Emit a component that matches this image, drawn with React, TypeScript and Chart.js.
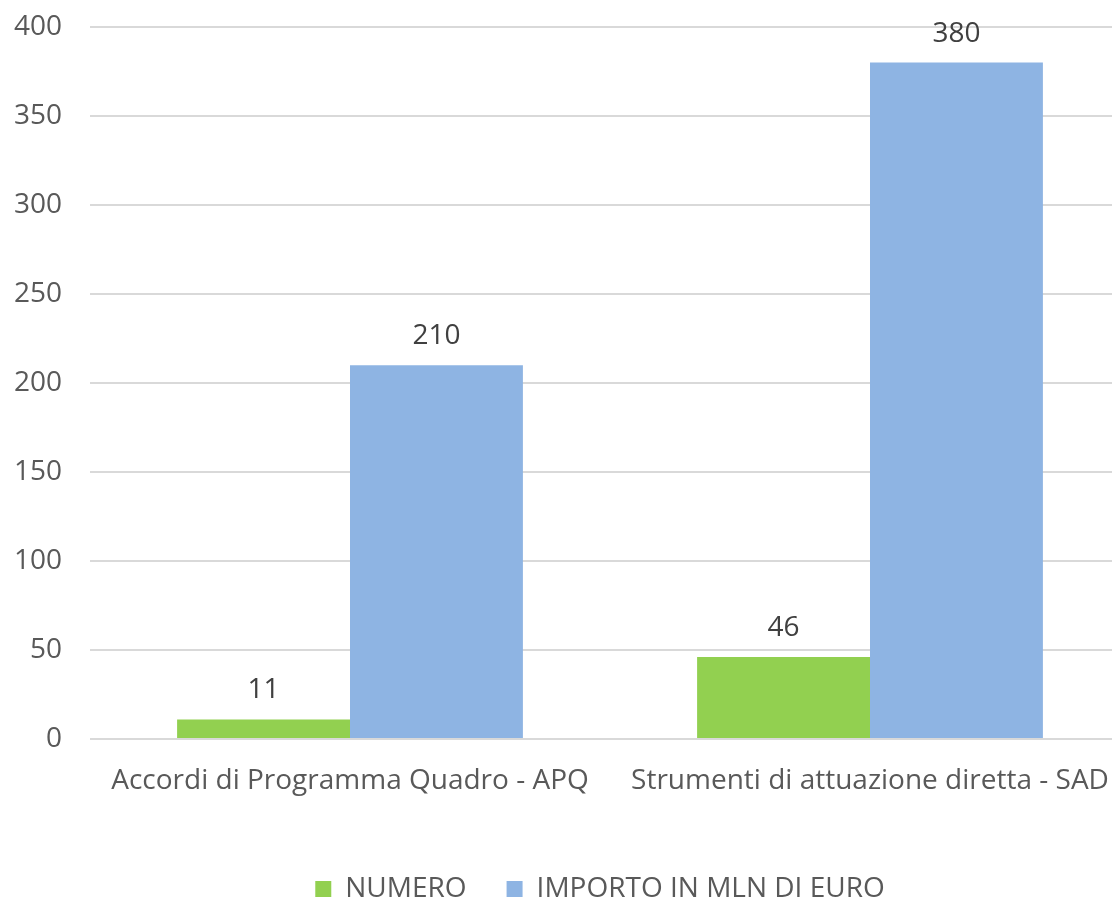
import React, { useEffect, useRef } from "react";
import { Chart, registerables } from "chart.js";

Chart.register(...registerables);

const categories = ["Accordi di Programma Quadro - APQ", "Strumenti di attuazione diretta - SAD"];
const numero = [11, 46];
const importo = [210, 380];
const seriesNames = ["NUMERO", "IMPORTO IN MLN DI EURO"];
const yTicks = [0, 50, 100, 150, 200, 250, 300, 350, 400];

const FONT = "'Open Sans', 'Noto Sans', sans-serif";
const TEXT = "#595959";
const FS = 28;

const valueLabels = {
  id: "valueLabels",
  afterLayout(chart: any) {
    const lg = chart.legend;
    if (lg) {
      lg.left += 35;
      lg.right += 35;
      lg.top += 14;
      lg.bottom += 14;
    }
  },
  afterDatasetsDraw(chart: any) {
    const ctx = chart.ctx;
    ctx.save();
    ctx.font = `${FS}px ${FONT}`;
    ctx.fillStyle = "#404040";
    ctx.textAlign = "center";
    ctx.textBaseline = "middle";
    chart.data.datasets.forEach((ds: any, i: number) => {
      const meta = chart.getDatasetMeta(i);
      meta.data.forEach((bar: any, j: number) => {
        ctx.fillText(String(ds.data[j]), bar.x, bar.y - 29);
      });
    });
    ctx.restore();
  },
};

export default function App() {
  const ref = useRef<HTMLCanvasElement | null>(null);
  useEffect(() => {
    document.body.style.overflow = "hidden";
    const chart = new Chart(ref.current as HTMLCanvasElement, {
      type: "bar",
      data: {
        labels: categories,
        datasets: [
          {
            label: seriesNames[0],
            data: numero,
            backgroundColor: "#92D050",
            borderWidth: 0,
            categoryPercentage: 0.665,
            barPercentage: 1,
          },
          {
            label: seriesNames[1],
            data: importo,
            backgroundColor: "#8EB4E3",
            borderWidth: 0,
            categoryPercentage: 0.665,
            barPercentage: 1,
          },
        ],
      },
      options: {
        animation: false,
        responsive: false,
        maintainAspectRatio: false,
        layout: { padding: { top: 27, left: 0, right: 0, bottom: 0 } },
        plugins: {
          tooltip: { enabled: false },
          legend: {
            position: "bottom",
            labels: {
              font: { family: FONT, size: FS },
              color: TEXT,
              boxWidth: 16,
              boxHeight: 16,
              padding: 40,
            },
          },
        },
        scales: {
          x: {
            grid: { display: false, drawTicks: false },
            border: { display: false },
            ticks: {
              font: { family: FONT, size: FS },
              color: TEXT,
              padding: 25,
              maxRotation: 0,
            },
            afterFit(scale: any) {
              scale.height = 82;
              scale.paddingLeft = 0;
              scale.paddingRight = 0;
            },
          },
          y: {
            min: 0,
            max: 400,
            afterBuildTicks(scale: any) {
              scale.ticks = yTicks.map((v) => ({ value: v }));
            },
            grid: { color: "#D9D9D9", lineWidth: 2, drawTicks: false },
            border: { display: false },
            ticks: {
              font: { family: FONT, size: FS },
              color: TEXT,
              padding: 28,
            },
            afterFit(scale: any) {
              scale.width = 90;
              scale.paddingTop = 0;
              scale.paddingBottom = 0;
            },
          },
        },
      },
      plugins: [valueLabels],
    });
    return () => chart.destroy();
  }, []);
  return (
    <div style={{ position: "absolute", left: 0, top: 0, width: 1130, height: 899 }}>
      <canvas ref={ref} width={1130} height={899} />
    </div>
  );
}
